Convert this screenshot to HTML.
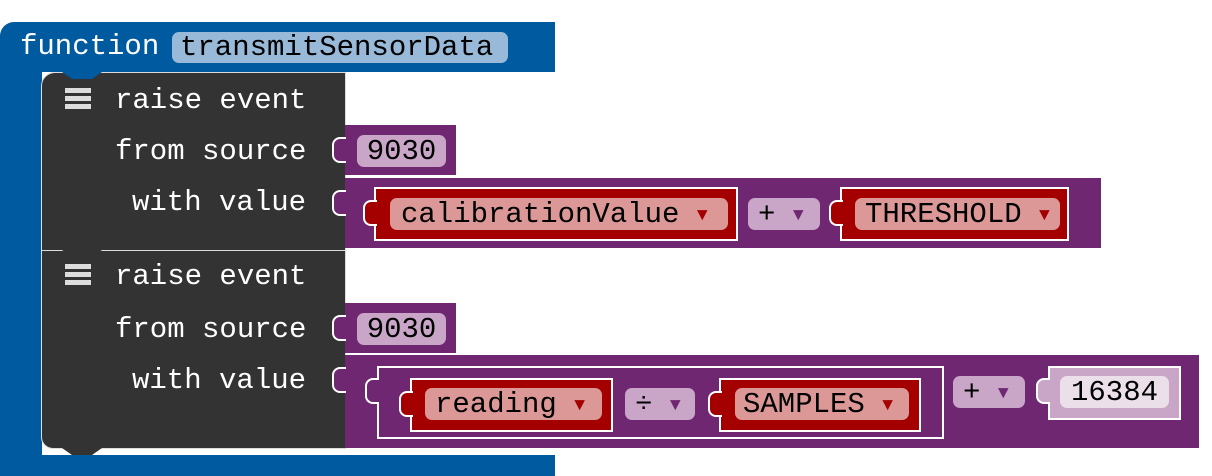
<!DOCTYPE html>
<html><head><meta charset="utf-8"><style>
body{margin:0;width:1212px;height:476px;background:#fff;position:relative;overflow:hidden;font-family:"Liberation Mono","DejaVu Sans Mono",monospace;}
div{position:absolute;box-sizing:border-box;}
.t{font-size:29px;line-height:30px;white-space:pre;}
.w{color:#fff;}
.pill{border-radius:7px;color:#000;font-size:29px;line-height:33px;white-space:pre;}
.pur{background:#6f2771;}
.red{background:#a50000;border:2px solid #fff;}
.tab{width:14px;height:26px;border-radius:8px 0 0 8px;border:2px solid #fff;border-right:none;}
</style></head><body>
<div style="left:0;top:22px;width:555px;height:50px;background:#005a9f;border-radius:14px 0 0 0;"></div>
<div style="left:0;top:60px;width:42px;height:416px;background:#005a9f;"></div>
<div style="left:0;top:455px;width:555px;height:21px;background:#005a9f;"></div>
<div class="t w" style="left:20px;top:32px;">function</div>
<div class="pill" style="left:172px;top:32px;width:336px;height:31px;background:#98bad8;padding-left:8px;line-height:31px;">transmitSensorData</div>

<div style="left:41px;top:72px;width:305px;height:179px;background:#333;border:1px solid #ddd;border-radius:14px 0 0 0;"></div>
<div style="left:41px;top:250px;width:305px;height:199px;background:#333;border:1px solid #ddd;border-radius:0 0 0 12px;"></div>
<div style="left:62px;top:72px;width:40px;height:7px;background:#005a9f;clip-path:polygon(0 0,100% 0,75% 100%,25% 100%);"></div>
<div style="left:62px;top:250px;width:40px;height:7px;background:#333;clip-path:polygon(0 0,100% 0,75% 100%,25% 100%);"></div>
<div style="left:62px;top:448px;width:40px;height:7px;background:#333;clip-path:polygon(0 0,100% 0,75% 100%,25% 100%);"></div>

<div style="left:65px;top:88px;width:26px;height:22px;background:repeating-linear-gradient(#ddd 0 5px,#333 5px 8px);"></div>
<div style="left:65px;top:264px;width:26px;height:22px;background:repeating-linear-gradient(#ddd 0 5px,#333 5px 8px);"></div>

<div class="t w" style="left:115px;top:86px;">raise event</div>
<div class="t w" style="left:115px;top:137px;">from source</div>
<div class="t w" style="left:132px;top:188px;">with value</div>
<div class="t w" style="left:115px;top:262px;">raise event</div>
<div class="t w" style="left:115px;top:315px;">from source</div>
<div class="t w" style="left:132px;top:366px;">with value</div>

<div class="pur" style="left:345px;top:125px;width:111px;height:50px;"></div>
<div class="tab pur" style="left:332px;top:137px;"></div>
<div class="pill" style="left:357px;top:135px;width:89px;height:32px;background:#c9a6c8;text-align:center;">9030</div>

<div class="pur" style="left:345px;top:178px;width:756px;height:70px;"></div>
<div class="tab pur" style="left:332px;top:190px;"></div>
<div class="red" style="left:374px;top:187px;width:364px;height:54px;"></div>
<div class="tab" style="left:363px;top:200px;background:#a50000;"></div>
<div class="pill" style="left:390px;top:198px;width:338px;height:32px;background:#dc9897;padding-left:11px;">calibrationValue <span style="color:#a50000;font-size:18px;vertical-align:2px;">▼</span></div>
<div class="pill" style="left:748px;top:198px;width:72px;height:32px;background:#c9a6c8;padding-left:10px;">+ <span style="color:#6f2771;font-size:18px;vertical-align:2px;">▼</span></div>
<div class="red" style="left:840px;top:187px;width:229px;height:54px;"></div>
<div class="tab" style="left:829px;top:200px;background:#a50000;"></div>
<div class="pill" style="left:855px;top:198px;width:205px;height:32px;background:#dc9897;padding-left:10px;">THRESHOLD <span style="color:#a50000;font-size:18px;vertical-align:2px;">▼</span></div>

<div class="pur" style="left:345px;top:303px;width:111px;height:50px;"></div>
<div class="tab pur" style="left:332px;top:315px;"></div>
<div class="pill" style="left:357px;top:313px;width:89px;height:32px;background:#c9a6c8;text-align:center;">9030</div>

<div class="pur" style="left:345px;top:355px;width:854px;height:93px;"></div>
<div class="tab pur" style="left:332px;top:367px;"></div>
<div class="pur" style="left:377px;top:366px;width:567px;height:73px;border:2px solid #fff;"></div>
<div class="tab pur" style="left:365px;top:378px;"></div>
<div class="red" style="left:410px;top:378px;width:203px;height:54px;"></div>
<div class="tab" style="left:399px;top:391px;background:#a50000;"></div>
<div class="pill" style="left:425px;top:388px;width:177px;height:32px;background:#dc9897;padding-left:10px;">reading <span style="color:#a50000;font-size:18px;vertical-align:2px;">▼</span></div>
<div class="pill" style="left:625px;top:388px;width:70px;height:32px;background:#c9a6c8;padding-left:10px;">÷ <span style="color:#6f2771;font-size:18px;vertical-align:2px;">▼</span></div>
<div class="red" style="left:719px;top:378px;width:202px;height:54px;"></div>
<div class="tab" style="left:708px;top:391px;background:#a50000;"></div>
<div class="pill" style="left:735px;top:388px;width:174px;height:32px;background:#dc9897;padding-left:8px;">SAMPLES <span style="color:#a50000;font-size:18px;vertical-align:2px;">▼</span></div>
<div class="pill" style="left:953px;top:376px;width:72px;height:32px;background:#c9a6c8;padding-left:10px;">+ <span style="color:#6f2771;font-size:18px;vertical-align:2px;">▼</span></div>
<div style="left:1048px;top:366px;width:133px;height:54px;background:#c9a6c8;border:2px solid #fff;"></div>
<div class="tab" style="left:1036px;top:378px;background:#c9a6c8;"></div>
<div class="pill" style="left:1060px;top:376px;width:109px;height:32px;background:#ebdfea;text-align:center;">16384</div>
</body></html>
